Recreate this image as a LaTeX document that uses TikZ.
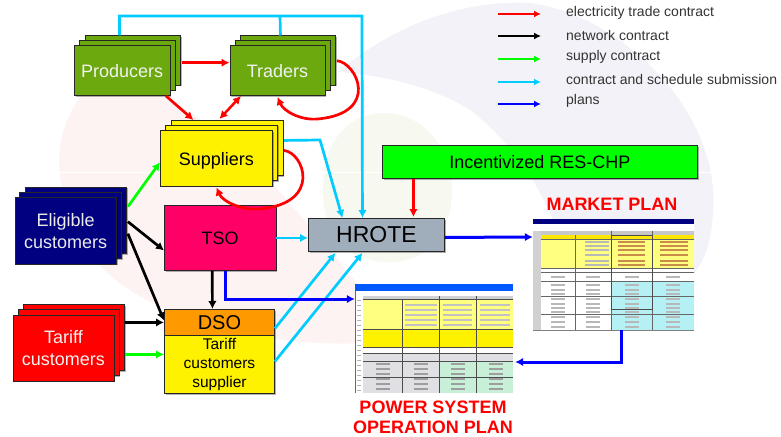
\documentclass[tikz,border=0pt]{standalone}
\usepackage{fontspec}
\setmainfont{Liberation Sans}
\usetikzlibrary{arrows.meta,calc,shadows}
\definecolor{cred}{HTML}{FF0000}
\definecolor{ccyan}{HTML}{00CCFF}
\definecolor{cblue}{HTML}{0000FF}
\definecolor{cgreen}{HTML}{00FF00}
\definecolor{prodgreen}{HTML}{6CA90F}
\definecolor{navy}{HTML}{000080}
\definecolor{tsopink}{HTML}{FF0066}
\definecolor{hrote}{HTML}{A0AEBC}
\definecolor{dsoorange}{HTML}{FF9900}
\definecolor{lyellow}{HTML}{FFFF80}
\definecolor{lcyan}{HTML}{B4F0F4}
\definecolor{lgreen}{HTML}{C8F0D8}
\definecolor{lgrey}{HTML}{E0E0E4}
\definecolor{bglav}{HTML}{F2F2F8}
\definecolor{bgpink}{HTML}{FDF3F3}
\definecolor{bggreen}{HTML}{F7F9F1}
\tikzset{
  softshadow/.style={drop shadow={shadow xshift=1.2pt,shadow yshift=-1.2pt,opacity=0.3,fill=black}},
  box/.style={draw=black!85,line width=0.9pt,minimum width=#1,inner sep=0pt,align=center,softshadow,font=\fontsize{18}{22}\selectfont},
  conn/.style={line width=2.7pt,-{Latex[length=8pt,width=8.5pt]}},
  both/.style={line width=2.5pt,{Latex[length=8pt,width=8.5pt]}-{Latex[length=8pt,width=8.5pt]}},
  legconn/.style={line width=2.2pt,-{Latex[length=7pt,width=7pt]}},
  legtext/.style={anchor=west,inner sep=0pt,text=black!80,font=\fontsize{14}{17}\selectfont},
  plantitle/.style={text=cred,font=\bfseries\fontsize{18}{20}\selectfont,align=center,inner sep=0pt},
  sheetbox/.style={inner sep=0pt,minimum width=#1},
  gridl/.style={line width=0.6pt,black!60},
  gridb/.style={line width=0.9pt,black!70},
  markg/.style={black!28,line width=1.2pt}
}
\newcommand{\stackbox}[7]{% x, y (front bottom-left), w, h, dx, dy, fill
  \path[fill=#7,draw=black!85,line width=0.9pt,softshadow] (#1+2*#5,#2-2*#6) rectangle ++(#3,#4);
  \path[fill=#7,draw=black!85,line width=0.9pt,softshadow] (#1+#5,#2-#6) rectangle ++(#3,#4);
}
\begin{document}
\begin{tikzpicture}[x=1pt,y=-1pt]
\useasboundingbox (0,0) rectangle (781,436);
% background swooshes
\fill[white] (0,0) rectangle (781,436);
\fill[bglav] (338,72) .. controls (400,20) and (470,0) .. (530,3) .. controls (620,15) and (720,110) .. (713,210) .. controls (712,240) and (705,262) .. (690,278) -- (600,330) -- (560,240) .. controls (545,190) and (510,140) .. (470,110) .. controls (430,85) and (380,75) .. (338,72) -- cycle;
\fill[bgpink] (100,77) .. controls (70,100) and (55,140) .. (60,175) .. controls (65,220) and (85,255) .. (110,275) .. controls (160,320) and (280,355) .. (400,340) .. controls (370,300) and (340,260) .. (320,240) .. controls (280,190) and (200,90) .. (100,77) -- cycle;
\fill[bggreen] (383,113) .. controls (340,115) and (323,150) .. (323,190) .. controls (323,240) and (350,262) .. (390,262) .. controls (430,262) and (452,230) .. (452,190) .. controls (452,150) and (425,113) .. (383,113) -- cycle;
\draw[white,line width=0.6pt] (60,172) -- (712,172);

% market plan sheet
\fill[white] (533,219) rectangle (694,330);
\fill[navy] (533,219) rectangle (694,224);
\fill[black!22] (533,231) rectangle (694,235);
\fill[lyellow] (541,235) rectangle (694,268);
\fill[yellow!90!orange] (541,235) rectangle (694,239);
\fill[lcyan] (611,281) rectangle (694,330);
\fill[black!18] (533,231) rectangle (541,330);
\draw[gridl] (575,235) -- (575,330) (611,231) -- (611,330) (652,231) -- (652,330);
\draw[gridl] (541,239) -- (694,239) (541,268) -- (694,268) (541,272) -- (694,272) (541,281) -- (694,281) (541,296) -- (694,296) (541,314) -- (694,314);
\draw[gridb] (611,235) rectangle (652,309);
\draw[black!50,line width=0.7pt] (533,330) -- (694,330);
\foreach \yy in {277,285,290,294,299,304,308,312,317,322,327}{
  \draw[markg] (551,\yy) -- (565,\yy) (586,\yy) -- (600,\yy) (625,\yy) -- (639,\yy) (666,\yy) -- (680,\yy);}
\foreach \yy in {242,246,250,255,261,265}{
  \draw[markg] (585,\yy) -- (609,\yy);
  \draw[orange!70!black!70,line width=1.1pt] (618,\yy) -- (645,\yy) (660,\yy) -- (688,\yy);}
\node[sheetbox=161pt,minimum height=111pt] (market) at (613.5,274.5) {};

% power plan sheet
\fill[white] (355,284) rectangle (513,393);
\fill[blue!65!cyan] (355,284) rectangle (513,291);
\fill[black!18] (363,296) rectangle (513,299);
\draw[blue!50!cyan,line width=0.8pt] (355,291) -- (355,393);
\fill[lyellow] (363,299) rectangle (513,329);
\fill[yellow] (363,329) rectangle (513,347);
\fill[lgrey] (363,353) rectangle (513,393);
\fill[lgreen] (439,362) rectangle (513,393);
\draw[gridb] (402,299) -- (402,393) (439,296) -- (439,393) (476,296) -- (476,393);
\draw[gridb] (363,299) -- (513,299) (363,329) -- (513,329) (363,347) -- (513,347) (363,353) -- (513,353) (363,361) -- (513,361) (363,377) -- (513,377);
\foreach \yy in {300,305,310,315,320,325,330,335,340,345,350,355,360,365,370,375,380,385,390}{
  \draw[black!30,line width=1pt] (357,\yy) -- (361,\yy);}
\foreach \yy in {364,369,374,379,384,389}{
  \draw[black!38,line width=1.2pt] (376,\yy) -- (390,\yy) (414,\yy) -- (428,\yy) (451,\yy) -- (465,\yy) (489,\yy) -- (503,\yy);}
\foreach \yy in {305,310,315,320,325}{
  \draw[black!24,line width=1.1pt] (405,\yy) -- (437,\yy) (443,\yy) -- (472,\yy) (480,\yy) -- (510,\yy);}
\node[sheetbox=158pt,minimum height=109pt] (power) at (434,338.5) {};

% boxes
\stackbox{74}{95}{95.5}{-49.5}{5.5}{5}{prodgreen}
\node[box=95.5pt,minimum height=49.5pt,fill=prodgreen,text=white!95!black,anchor=north west] (prod) at (74,45.5) {Producers};
\stackbox{229.5}{95}{95}{-49.5}{5.5}{5}{prodgreen}
\node[box=95pt,minimum height=49.5pt,fill=prodgreen,text=white!95!black,anchor=north west] (trad) at (229.5,45.5) {Traders};
\stackbox{160}{185.5}{112}{-55.5}{5.5}{4.8}{yellow}
\node[box=112pt,minimum height=55.5pt,fill=yellow,anchor=north west] (supp) at (160,130) {\raisebox{-7pt}[0pt][0pt]{Suppliers}};
\stackbox{14.5}{263.5}{101.5}{-66.5}{5.3}{5}{navy}
\node[box=101.5pt,minimum height=66.5pt,fill=navy,text=white!92!black,anchor=north west] (elig) at (14.5,197) {Eligible\\customers};
\stackbox{12.5}{380.5}{101}{-66}{5.5}{5}{cred}
\node[box=101pt,minimum height=66pt,fill=cred,text=white!95!black,anchor=north west] (tarc) at (12.5,314.5) {Tariff\\customers};
\node[box=111.5pt,minimum height=65pt,fill=tsopink,anchor=north west] (tso) at (164,205) {TSO};
\node[box=110pt,minimum height=26pt,fill=dsoorange,anchor=north west,font=\fontsize{20}{24}\selectfont] (dso) at (164,309) {DSO};
\node[box=110pt,minimum height=58pt,fill=yellow,anchor=north west,font=\fontsize{15.5}{18.8}\selectfont] (tsup) at (164,335) {Tariff\\customers\\supplier};
\node[box=136pt,minimum height=33pt,fill=hrote,anchor=north west,font=\fontsize{23}{28}\selectfont] (hr) at (308,218) {HROTE};
\node[box=315pt,minimum height=33pt,fill=cgreen,anchor=north west,font=\fontsize{18}{21}\selectfont] (inc) at (382,145) {Incentivized RES-CHP};

\node[plantitle] (mp) at (612,204) {MARKET PLAN};
\node[plantitle] (pp) at (433,417) {POWER SYSTEM\\OPERATION PLAN};

\coordinate (ctop) at (362,16);
\coordinate (cjoin) at (280,16);
\coordinate (csupp) at (320,140);

% red
\draw[conn,cred] ([xshift=11.5pt,yshift=8pt]prod.east) -- ([yshift=8pt]trad.west);
\draw[conn,cred] ([xshift=-4.5pt]prod.south east) -- ([xshift=-23pt,yshift=10pt]supp.north);
\draw[both,cred] ([xshift=11.5pt]trad.south west) -- ([xshift=3pt,yshift=11pt]supp.north);
\draw[conn,cred] ([xshift=11.5pt,yshift=10pt]trad.east) .. controls +(20,2) and +(62,-6) .. ([xshift=41pt,yshift=-23pt]trad.south) .. controls +(-18,2) and +(6,14) .. ([yshift=-1pt]trad.south);
\draw[conn,cred] ([xshift=11pt,yshift=7.75pt]supp.east) .. controls +(20,2) and +(62,-6) .. ([xshift=44pt,yshift=-22.5pt]supp.south) .. controls +(-18,2) and +(6,14) .. ([yshift=-1pt]supp.south);
\draw[conn,cred] ([xshift=-126.5pt]inc.south) -- ([xshift=37pt,yshift=1pt]hr.north);
% green
\draw[conn,cgreen] ([xshift=11pt,yshift=24pt]elig.east) -- ([yshift=-4pt]supp.west);
\draw[conn,cgreen] ([xshift=11pt,yshift=-6.5pt]tarc.east) -- ([yshift=10pt]tsup.west);
% black
\draw[conn,black] ([xshift=11pt,yshift=9pt]elig.east) -- ([yshift=-12.5pt]tso.west);
\draw[conn,black] ([xshift=11pt,yshift=-3pt]elig.east) -- ([yshift=2pt]dso.west);
\draw[conn,black] ([xshift=11pt,yshift=25.5pt]tarc.east) -- (dso.west);
\draw[conn,black] ([xshift=-8pt]tso.south) -- ([xshift=-7pt]dso.north);
% cyan
\draw[conn,ccyan] ([xshift=-2.75pt,yshift=10pt]prod.north) |- (ctop) -- ([xshift=-14pt]hr.north);
\draw[line width=2.7pt,ccyan] ([xshift=3pt,yshift=10pt]trad.north) -- (cjoin);
\draw[conn,ccyan] ([xshift=11pt,yshift=17.75pt]supp.east) -- (csupp) -- ([xshift=-34pt]hr.north);
\draw[conn,ccyan] (tso.east) -- ([yshift=-3pt]hr.west);
\draw[conn,ccyan] ([yshift=-6pt]dso.east) -- ([xshift=-41pt,yshift=-1pt]hr.south);
\draw[conn,ccyan] ([yshift=3pt]tsup.east) -- ([xshift=-14pt,yshift=-1pt]hr.south);
% blue
\draw[conn,cblue,line width=3pt] ([xshift=5pt]tso.south) |- ([yshift=39.5pt]power.west);
\draw[conn,cblue,line width=3pt] ([yshift=-2.5pt]hr.east) -- ([yshift=37.5pt]market.west);
\draw[conn,cblue,line width=3pt] ([xshift=7.5pt]market.south) |- ([xshift=2pt,yshift=-23.5pt]power.east);
% legend
\foreach \nm/\col/\yy/\ty/\tx in {a/cred/14/13/electricity trade contract,b/black/36/35/network contract,c/cgreen/59/57/supply contract,d/ccyan/82/79/contract and schedule submission,e/cblue/104/101/plans}{
  \coordinate (leg\nm s) at (498,\yy);
  \coordinate (leg\nm e) at (541,\yy);
  \draw[legconn,\col] (leg\nm s) -- (leg\nm e);
  \node[legtext] (leg\nm) at (566,\ty) {\tx};
}
\end{tikzpicture}
\end{document}
